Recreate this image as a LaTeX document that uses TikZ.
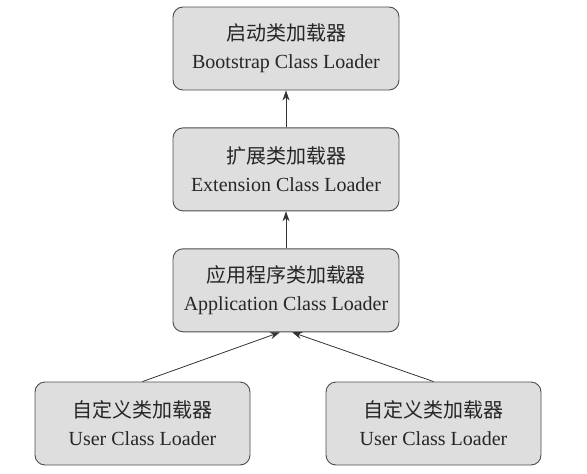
\documentclass[tikz,border=0pt]{standalone}
\usepackage{fontspec}
\setmainfont{Liberation Serif}
\newfontfamily\cjk{Noto Sans CJK SC}
\usepackage{xcolor}
\usetikzlibrary{arrows.meta}
\usetikzlibrary{positioning}
\tikzset{
	loader/.style={draw=black!70, fill=black!13, rounded corners=10pt, line width=0.9pt,
		minimum width=226pt, minimum height=83pt, align=center,
		font=\fontsize{20}{28}\selectfont, text=black!85},
	userloader/.style={loader, minimum width=215pt},
	parent/.style={-{Stealth[length=10pt,width=7pt]}, line width=0.8pt, draw=black!80},
}

\begin{document}
\begin{tikzpicture}[x=1pt, y=-1pt]
	\useasboundingbox (0,0) rectangle (587,474);
	% chain of parent loaders
	\node[loader] (bootstrap) at (286, 48.5) {{\cjk 启动类加载器}\\Bootstrap Class Loader};
	\node[loader, below=37pt of bootstrap] (extension) {{\cjk 扩展类加载器}\\Extension Class Loader};
	\node[loader, below=37pt of extension] (application) {{\cjk 应用程序类加载器}\\Application Class Loader};
	% user loaders
	\node[userloader] (userA) at (142.5, 423.5) {{\cjk 自定义类加载器}\\User Class Loader};
	\node[userloader] (userB) at (433.5, 423.5) {{\cjk 自定义类加载器}\\User Class Loader};
	\draw[parent] (extension) -- (bootstrap);
	\draw[parent] (application) -- (extension);
	\draw[parent] (userA.north) -- ([xshift=-6pt]application.south);
	\draw[parent] (userB.north) -- ([xshift=6pt]application.south);
\end{tikzpicture}
\end{document}
